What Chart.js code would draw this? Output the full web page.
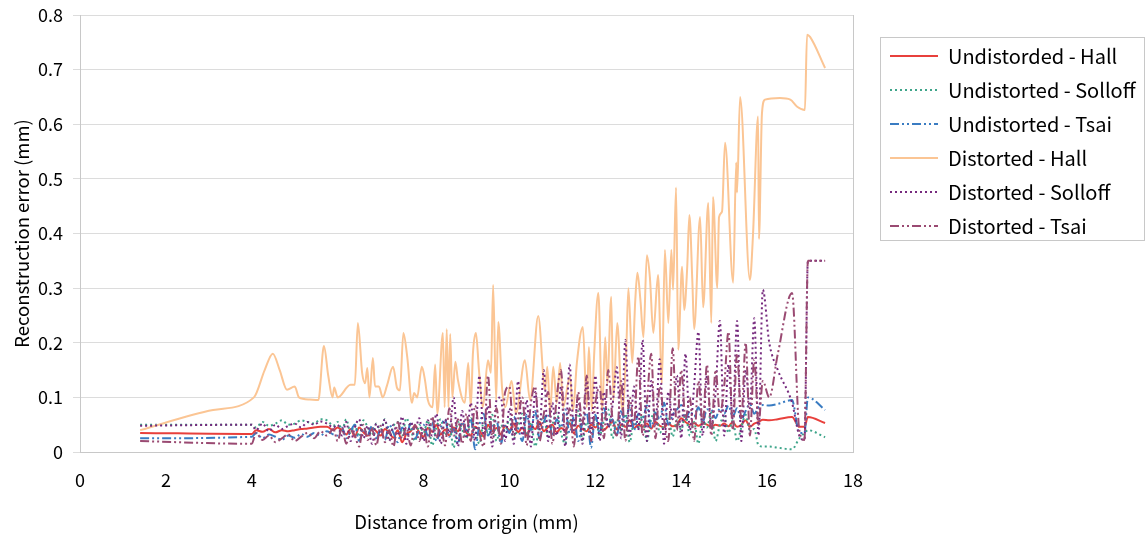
<!DOCTYPE html>
<html>
<head>
<meta charset="utf-8">
<script src="https://cdn.jsdelivr.net/npm/chart.js@4.4.1/dist/chart.umd.min.js"></script>
<style>
html,body{margin:0;padding:0;background:#fff;}
canvas{display:block;}
</style>
</head>
<body>
<canvas id="c" width="1147" height="534"></canvas>
<script>
// ---------- DATA ----------
const seriesNames = ['Undistorded - Hall','Undistorted - Solloff','Undistorted - Tsai','Distorted - Hall','Distorted - Solloff','Distorted - Tsai'];

// shared distances for five of the series (mm)
const distance = [
 1.40, 4.00, 4.10, 4.25, 4.40, 4.55, 4.70, 4.85, 5.00, 5.15, 5.30, 5.45, 5.60, 5.75, 5.90,
 6.0, 6.1, 6.2, 6.3, 6.4, 6.5, 6.6, 6.7, 6.8, 6.9,
 7.0, 7.1, 7.2, 7.3, 7.4, 7.5, 7.6, 7.7, 7.8, 7.9,
 8.0, 8.1, 8.2, 8.3, 8.4, 8.5, 8.6, 8.7, 8.8, 8.9,
 9.0, 9.1, 9.2, 9.3, 9.4, 9.5, 9.6, 9.7, 9.8, 9.9,
 10.0, 10.1, 10.2, 10.3, 10.4, 10.5, 10.6, 10.7, 10.8, 10.9,
 11.0, 11.1, 11.2, 11.3, 11.4, 11.5, 11.6, 11.7, 11.8, 11.9,
 12.0, 12.1, 12.2, 12.3, 12.4, 12.5, 12.6, 12.7, 12.8, 12.9,
 13.0, 13.1, 13.2, 13.3, 13.4, 13.5, 13.6, 13.7, 13.8, 13.9,
 14.0, 14.1, 14.2, 14.3, 14.4, 14.5, 14.6, 14.7, 14.8, 14.9,
 15.0, 15.1, 15.2, 15.3, 15.4, 15.5, 15.6, 15.7, 15.8, 15.9,
 16.05, 16.25, 16.58, 16.75, 16.87, 16.95, 17.35
];

const undistortedHall = [
 0.035, 0.033, 0.040, 0.037, 0.042, 0.036, 0.040, 0.038, 0.040, 0.042, 0.043, 0.045, 0.046, 0.046, 0.040,
 0.045, 0.040, 0.032, 0.042, 0.028, 0.045, 0.036, 0.030, 0.044, 0.038,
 0.030, 0.042, 0.035, 0.026, 0.040, 0.018, 0.033, 0.038, 0.048, 0.036,
 0.028, 0.044, 0.037, 0.050, 0.032, 0.041, 0.030, 0.045, 0.038, 0.052,
 0.035, 0.030, 0.046, 0.040, 0.028, 0.050, 0.038, 0.044, 0.032, 0.048,
 0.040, 0.052, 0.036, 0.045, 0.030, 0.048, 0.042, 0.055, 0.038, 0.046,
 0.050, 0.036, 0.044, 0.040, 0.053, 0.034, 0.048, 0.042, 0.038, 0.050,
 0.045, 0.052, 0.040, 0.048, 0.055, 0.042, 0.050, 0.046, 0.058, 0.044,
 0.050, 0.046, 0.052, 0.043, 0.055, 0.048, 0.045, 0.052, 0.047, 0.050,
 0.062, 0.055, 0.050, 0.053, 0.048, 0.052, 0.050, 0.046, 0.050, 0.048,
 0.052, 0.047, 0.055, 0.046, 0.050, 0.058, 0.046, 0.052, 0.055, 0.059,
 0.058, 0.060, 0.064, 0.046, 0.046, 0.064, 0.053
];

const undistortedSolloff = [
 0.050, 0.050, 0.045, 0.055, 0.048, 0.052, 0.058, 0.050, 0.052, 0.058, 0.055, 0.052, 0.060, 0.058, 0.048,
 0.055, 0.040, 0.060, 0.035, 0.050, 0.028, 0.058, 0.045, 0.030, 0.052,
 0.040, 0.060, 0.025, 0.048, 0.055, 0.030, 0.062, 0.042, 0.020, 0.050,
 0.035, 0.058, 0.012, 0.045, 0.060, 0.030, 0.050, 0.008, 0.055, 0.040,
 0.025, 0.062, 0.040, 0.015, 0.055, 0.035, 0.068, 0.020, 0.050, 0.038,
 0.060, 0.025, 0.045, 0.070, 0.030, 0.055, 0.010, 0.048, 0.065, 0.028,
 0.050, 0.072, 0.035, 0.015, 0.060, 0.045, 0.075, 0.022, 0.055, 0.040,
 0.065, 0.030, 0.058, 0.078, 0.025, 0.060, 0.040, 0.070, 0.018, 0.055,
 0.045, 0.068, 0.020, 0.060, 0.075, 0.035, 0.050, 0.065, 0.028, 0.058,
 0.040, 0.070, 0.030, 0.055, 0.015, 0.062, 0.045, 0.072, 0.020, 0.050,
 0.065, 0.035, 0.058, 0.020, 0.045, 0.068, 0.040, 0.042, 0.012, 0.010,
 0.010, 0.008, 0.005, 0.025, 0.035, 0.040, 0.027
];

const undistortedTsai = [
 0.025, 0.028, 0.035, 0.025, 0.032, 0.028, 0.022, 0.030, 0.026, 0.033, 0.028, 0.035, 0.030, 0.038, 0.032,
 0.030, 0.045, 0.025, 0.038, 0.050, 0.020, 0.042, 0.032, 0.048, 0.025,
 0.040, 0.022, 0.050, 0.035, 0.018, 0.045, 0.030, 0.052, 0.025, 0.040,
 0.050, 0.030, 0.055, 0.020, 0.045, 0.060, 0.028, 0.042, 0.015, 0.055,
 0.040, 0.062, 0.005, 0.050, 0.070, 0.030, 0.045, 0.058, 0.015, 0.048,
 0.035, 0.065, 0.045, 0.020, 0.068, 0.040, 0.075, 0.025, 0.055, 0.070,
 0.030, 0.060, 0.045, 0.078, 0.035, 0.065, 0.020, 0.055, 0.072, 0.008,
 0.068, 0.035, 0.080, 0.050, 0.060, 0.030, 0.075, 0.055, 0.085, 0.040,
 0.070, 0.058, 0.085, 0.045, 0.072, 0.060, 0.090, 0.050, 0.068, 0.078,
 0.086, 0.060, 0.075, 0.065, 0.082, 0.055, 0.078, 0.077, 0.062, 0.080,
 0.070, 0.085, 0.065, 0.080, 0.060, 0.075, 0.088, 0.070, 0.082, 0.086,
 0.085, 0.088, 0.095, 0.035, 0.035, 0.100, 0.077
];

const distortedSolloff = [
 0.048, 0.050, 0.040, 0.052, 0.038, 0.050, 0.042, 0.048, 0.052, 0.045, 0.055, 0.050, 0.056, 0.052, 0.045,
 0.050, 0.030, 0.055, 0.020, 0.045, 0.060, 0.025, 0.048, 0.015, 0.052,
 0.035, 0.060, 0.020, 0.050, 0.030, 0.065, 0.015, 0.055, 0.040, 0.062,
 0.020, 0.058, 0.030, 0.070, 0.015, 0.060, 0.035, 0.100, 0.010, 0.075,
 0.025, 0.090, 0.020, 0.140, 0.030, 0.085, 0.010, 0.095, 0.100, 0.020,
 0.080, 0.015, 0.130, 0.030, 0.095, 0.010, 0.110, 0.040, 0.150, 0.020,
 0.090, 0.030, 0.120, 0.010, 0.160, 0.040, 0.100, 0.015, 0.130, 0.035,
 0.140, 0.020, 0.110, 0.045, 0.085, 0.155, 0.025, 0.205, 0.030, 0.120,
 0.040, 0.205, 0.020, 0.130, 0.050, 0.170, 0.015, 0.110, 0.060, 0.140,
 0.025, 0.180, 0.040, 0.120, 0.220, 0.030, 0.140, 0.050, 0.110, 0.240,
 0.030, 0.160, 0.060, 0.240, 0.020, 0.150, 0.080, 0.245, 0.030, 0.297,
 0.200, 0.150, 0.090, 0.030, 0.022, 0.350, 0.350
];

const distortedTsai = [
 0.020, 0.015, 0.035, 0.022, 0.030, 0.018, 0.025, 0.032, 0.020, 0.028, 0.035, 0.025, 0.038, 0.030, 0.042,
 0.020, 0.045, 0.015, 0.040, 0.030, 0.010, 0.050, 0.022, 0.042, 0.012,
 0.048, 0.018, 0.040, 0.010, 0.055, 0.025, 0.045, 0.012, 0.050, 0.020,
 0.045, 0.010, 0.065, 0.025, 0.050, 0.012, 0.080, 0.030, 0.060, 0.015,
 0.070, 0.020, 0.085, 0.035, 0.010, 0.140, 0.025, 0.080, 0.015, 0.110,
 0.120, 0.030, 0.060, 0.100, 0.012, 0.090, 0.120, 0.020, 0.070, 0.110,
 0.015, 0.100, 0.150, 0.030, 0.080, 0.010, 0.110, 0.050, 0.140, 0.020,
 0.090, 0.120, 0.025, 0.150, 0.060, 0.030, 0.130, 0.020, 0.100, 0.050,
 0.175, 0.030, 0.090, 0.180, 0.025, 0.120, 0.060, 0.020, 0.190, 0.040,
 0.150, 0.060, 0.100, 0.020, 0.130, 0.050, 0.160, 0.030, 0.150, 0.070,
 0.120, 0.220, 0.040, 0.180, 0.060, 0.200, 0.030, 0.170, 0.050, 0.130,
 0.100, 0.180, 0.291, 0.040, 0.022, 0.350, 0.350
];

// Distorted - Hall has its own distance readings
const distanceDistortedHall = [
 1.40, 3.10, 4.05, 4.30, 4.49, 4.65, 4.82, 5.00, 5.10, 5.35, 5.55, 5.68, 5.78, 5.88, 5.92, 6.00,
 6.30, 6.40, 6.47, 6.57, 6.64, 6.69, 6.74, 6.82, 6.87, 6.96, 7.05, 7.15, 7.29, 7.38, 7.45,
 7.53, 7.62, 7.73, 7.78, 7.85, 7.96, 8.03, 8.10, 8.21, 8.27, 8.32, 8.45, 8.49, 8.54, 8.58,
 8.62, 8.67, 8.74, 8.80, 8.96, 9.04, 9.10, 9.15, 9.22, 9.29, 9.38, 9.50, 9.57, 9.62, 9.69,
 9.74, 9.83, 9.90, 10.05, 10.15, 10.36, 10.48, 10.67, 10.83, 10.88, 10.95, 11.02, 11.10, 11.18, 11.25,
 11.41, 11.48, 11.57, 11.71, 11.80, 11.85, 11.92, 11.97, 12.07, 12.16, 12.23, 12.28, 12.37, 12.42, 12.51,
 12.63, 12.72, 12.77, 12.86, 12.93, 12.98, 13.05, 13.12, 13.20, 13.27, 13.35, 13.46, 13.55, 13.62, 13.70,
 13.77, 13.81, 13.88, 13.93, 14.02, 14.07, 14.14, 14.19, 14.26, 14.30, 14.44, 14.51, 14.63, 14.70, 14.74,
 14.84, 14.88, 14.95, 15.02, 15.21, 15.28, 15.30, 15.37, 15.60, 15.67, 15.79, 15.81, 15.88, 15.95, 16.30,
 16.54, 16.70, 16.88, 16.93, 17.00, 17.35
];
const distortedHall = [
 0.040, 0.077, 0.100, 0.150, 0.180, 0.150, 0.114, 0.120, 0.100, 0.096, 0.095, 0.194, 0.140, 0.100, 0.118, 0.100,
 0.123, 0.123, 0.236, 0.145, 0.126, 0.154, 0.100, 0.172, 0.120, 0.120, 0.100, 0.122, 0.156, 0.118, 0.113,
 0.218, 0.174, 0.090, 0.108, 0.100, 0.156, 0.133, 0.095, 0.082, 0.160, 0.070, 0.218, 0.082, 0.225, 0.082,
 0.216, 0.100, 0.165, 0.132, 0.090, 0.163, 0.082, 0.181, 0.218, 0.150, 0.082, 0.168, 0.145, 0.306, 0.095,
 0.238, 0.115, 0.082, 0.130, 0.070, 0.168, 0.095, 0.249, 0.113, 0.156, 0.075, 0.156, 0.090, 0.163, 0.082,
 0.138, 0.075, 0.163, 0.229, 0.082, 0.192, 0.075, 0.174, 0.291, 0.075, 0.210, 0.126, 0.284, 0.095, 0.236,
 0.075, 0.187, 0.300, 0.163, 0.278, 0.328, 0.278, 0.210, 0.360, 0.320, 0.218, 0.324, 0.126, 0.370, 0.236,
 0.370, 0.297, 0.484, 0.187, 0.339, 0.260, 0.339, 0.434, 0.310, 0.225, 0.430, 0.265, 0.456, 0.236, 0.467,
 0.300, 0.430, 0.440, 0.566, 0.310, 0.530, 0.475, 0.650, 0.315, 0.395, 0.614, 0.390, 0.620, 0.645, 0.648,
 0.645, 0.632, 0.626, 0.764, 0.760, 0.703
];

const xTicks = { min: 0, max: 18, step: 2 };
const yTicks = { min: 0, max: 0.8, step: 0.1 };

// ---------- CHART ----------
const FONT = "'Noto Sans CJK JP', 'Noto Sans', sans-serif";
const pts = (xs, ys) => xs.map((x, i) => ({ x, y: ys[i] }));
const DOT = [2, 3];
const DASHDOTDOT = [9, 3, 2, 3, 2, 3];

const legendFrame = {
  id: 'legendFrame',
  beforeLayout(chart) {
    const lg = chart.legend;
    if (lg && !lg._wPatched) {
      const fit = lg.fit;
      lg.fit = function () { fit.call(this); this.width = chart.width - 853; };
      lg._wPatched = true;
    }
  },
  afterLayout(chart) {
    const lg = chart.legend;
    if (lg) { lg.left = 876; lg.top = 32; }
  },
  afterDraw(chart) {
    const ctx = chart.ctx;
    ctx.save();
    ctx.strokeStyle = '#c8c8c8';
    ctx.lineWidth = 1;
    ctx.strokeRect(880.5, 37.5, 264, 203);
    ctx.restore();
  }
};

new Chart(document.getElementById('c'), {
  type: 'line',
  data: {
    datasets: [
      { label: seriesNames[0], data: pts(distance, undistortedHall), borderColor: '#e8403c', borderWidth: 2, order: 5 },
      { label: seriesNames[1], data: pts(distance, undistortedSolloff), borderColor: '#3ea58a', borderWidth: 2, borderDash: DOT, order: 4 },
      { label: seriesNames[2], data: pts(distance, undistortedTsai), borderColor: '#3a7cc2', borderWidth: 2, borderDash: DASHDOTDOT, order: 3 },
      { label: seriesNames[3], data: pts(distanceDistortedHall, distortedHall), borderColor: '#fbc594', borderWidth: 2, order: 2 },
      { label: seriesNames[4], data: pts(distance, distortedSolloff), borderColor: '#762a7e', borderWidth: 2, borderDash: DOT, order: 1 },
      { label: seriesNames[5], data: pts(distance, distortedTsai), borderColor: '#9a4a72', borderWidth: 2, borderDash: DASHDOTDOT, order: 0 }
    ]
  },
  options: {
    responsive: false,
    animation: false,
    devicePixelRatio: 1,
    layout: { padding: { left: 0, top: 15, right: 0, bottom: 0 } },
    elements: {
      point: { radius: 0, hoverRadius: 0 },
      line: { cubicInterpolationMode: 'monotone', fill: false }
    },
    plugins: {
      tooltip: { enabled: false },
      legend: {
        position: 'right',
        align: 'start',
        labels: {
          usePointStyle: true,
          pointStyle: 'line',
          pointStyleWidth: 48,
          padding: 14,
          color: '#000',
          font: { family: FONT, size: 20 },
          sort: (a, b) => a.datasetIndex - b.datasetIndex,
          generateLabels: chart => Chart.defaults.plugins.legend.labels.generateLabels(chart).map(it => {
            const ds = chart.data.datasets[it.datasetIndex];
            return Object.assign(it, { lineDash: ds.borderDash || [], strokeStyle: ds.borderColor, lineWidth: ds.borderWidth });
          })
        }
      }
    },
    scales: {
      x: {
        type: 'linear',
        min: xTicks.min, max: xTicks.max,
        ticks: { stepSize: xTicks.step, color: '#000', font: { family: FONT, size: 18 }, padding: 17, maxRotation: 0 },
        grid: { drawTicks: false, color: c => (c.tick && c.tick.value === xTicks.max) ? '#c8c8c8' : 'rgba(0,0,0,0)' },
        border: { color: '#c8c8c8' },
        title: { display: true, text: 'Distance from origin (mm)', color: '#000', font: { family: FONT, size: 18.5 }, padding: { top: 0, bottom: 1 } },
        afterFit: s => { s.height = 82; }
      },
      y: {
        type: 'linear',
        min: yTicks.min, max: yTicks.max,
        ticks: { stepSize: yTicks.step, color: '#000', font: { family: FONT, size: 18 }, padding: 10 },
        grid: { color: '#dcdcdc', tickLength: 7 },
        border: { color: '#c8c8c8' },
        title: { display: true, text: 'Reconstruction error (mm)', color: '#000', font: { family: FONT, size: 18.5 }, padding: { top: 11, bottom: 0 } },
        afterFit: s => { s.width = 80; s.paddingTop = 0; s.paddingBottom = 0; }
      }
    }
  },
  plugins: [legendFrame]
});
</script>
</body>
</html>
